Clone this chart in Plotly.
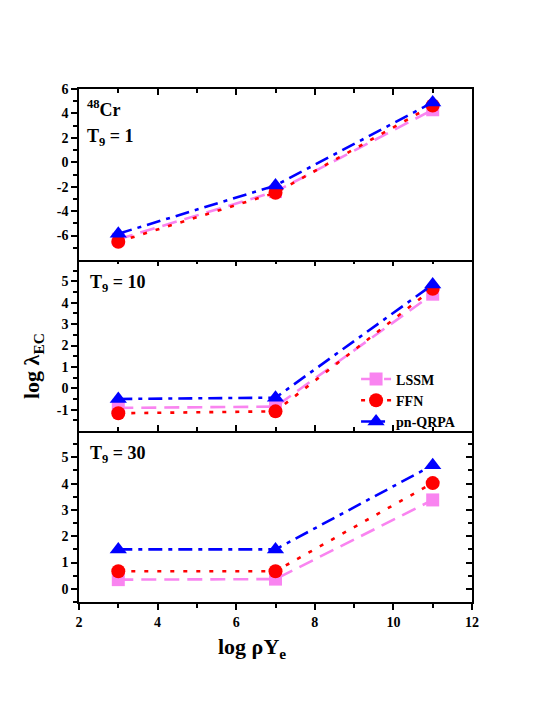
import plotly.graph_objects as go

# ---------------- data ----------------
log_rho_ye = [3, 7, 11]

lssm_t1 = [-6.3, -2.4, 4.3]
ffn_t1 = [-6.5, -2.5, 4.65]
qrpa_t1 = [-5.85, -1.9, 4.9]

lssm_t10 = [-0.92, -0.86, 4.4]
ffn_t10 = [-1.17, -1.08, 4.65]
qrpa_t10 = [-0.5, -0.44, 4.85]

lssm_t30 = [0.35, 0.37, 3.38]
ffn_t30 = [0.67, 0.67, 4.02]
qrpa_t30 = [1.5, 1.5, 4.7]

series_names = ["LSSM", "FFN", "pn-QRPA"]
panel_labels = ["T<sub>9</sub> = 1", "T<sub>9</sub> = 10", "T<sub>9</sub> = 30"]
nucleus_label = "<sup>48</sup>Cr"

x_ticks = [2, 4, 6, 8, 10, 12]
x_minor = [3, 5, 7, 9, 11]
top_ticks = [-6, -4, -2, 0, 2, 4, 6]
top_minor = [-7, -5, -3, -1, 1, 3, 5]
mid_ticks = [-1, 0, 1, 2, 3, 4, 5]
mid_minor = [-1.5, -0.5, 0.5, 1.5, 2.5, 3.5, 4.5, 5.5]
bot_ticks = [0, 1, 2, 3, 4, 5]
bot_minor = [-0.5, 0.5, 1.5, 2.5, 3.5, 4.5, 5.5]


def bold_labels(vals):
    return ["<b>%s</b>" % ("%g" % v) for v in vals]


# ---------------- styles ----------------
FONT = "Liberation Serif"
VIOLET = "#F984F0"
RED = "#FF0000"
BLUE = "#0000FF"
styles = {
    "LSSM": dict(color=VIOLET, dash="15px,8px", symbol="square", size=13),
    "FFN": dict(color=RED, dash="4px,9px", symbol="circle", size=14),
    "pn-QRPA": dict(color=BLUE, dash="14px,6px,4px,6px", symbol="triangle-up", size=15),
}

fig = go.Figure()

panels = [
    ("x3", "y3", [lssm_t1, ffn_t1, qrpa_t1]),
    ("x2", "y2", [lssm_t10, ffn_t10, qrpa_t10]),
    ("x", "y", [lssm_t30, ffn_t30, qrpa_t30]),
]
for pi, (xa, ya, data) in enumerate(panels):
    for name, vals in zip(series_names, data):
        s = styles[name]
        fig.add_trace(go.Scatter(
            x=log_rho_ye, y=vals, xaxis=xa, yaxis=ya, name="<b>" + name + "</b>",
            mode="lines+markers",
            line=dict(color=s["color"], width=2.6, dash=s["dash"]),
            marker=dict(color=s["color"], symbol=s["symbol"], size=s["size"]),
            showlegend=(pi == 1),
        ))

# empty traces so the right-hand overlay axes exist
for ya in ["y4", "y5", "y6"]:
    fig.add_trace(go.Scatter(x=[], y=[], xaxis="x", yaxis=ya, showlegend=False, hoverinfo="skip"))

tickfont = dict(family=FONT, size=14, color="black", weight="bold")
axis_common = dict(showline=True, linecolor="black", linewidth=1.5, showgrid=False,
                   zeroline=False, tickcolor="black", tickwidth=1.5)

d1 = 1 / 3
d2 = 2 / 3


def minor(vals, kind):
    return dict(tickvals=vals, ticks=kind, ticklen=4, tickcolor="black", tickwidth=1.5)


fig.update_layout(
    width=544, height=704,
    margin=dict(l=71, r=79.5, t=81, b=110.3),
    plot_bgcolor="white", paper_bgcolor="white",
    xaxis=dict(**axis_common, anchor="y", range=[2, 12], tickvals=x_ticks,
               ticktext=bold_labels(x_ticks),
               ticks="outside", ticklen=6, mirror=True, tickfont=tickfont,
               minor=minor(x_minor, "outside")),
    xaxis2=dict(**axis_common, anchor="y2", matches="x", range=[2, 12], tickvals=x_ticks,
                ticks="inside", ticklen=6, mirror="ticks", showticklabels=False,
                minor=minor(x_minor, "inside")),
    xaxis3=dict(**axis_common, anchor="y3", matches="x", range=[2, 12], tickvals=x_ticks,
                side="top", ticks="inside", ticklen=6, mirror=True, showticklabels=False,
                minor=minor(x_minor, "inside")),
    yaxis=dict(**axis_common, domain=[0, d1], range=[-0.5, 6], tickvals=bot_ticks,
               ticktext=bold_labels(bot_ticks),
               ticks="outside", ticklen=6, tickfont=tickfont, anchor="x",
               minor=minor(bot_minor, "outside")),
    yaxis2=dict(**axis_common, domain=[d1, d2], range=[-2, 6], tickvals=mid_ticks,
                ticktext=bold_labels(mid_ticks),
                ticks="outside", ticklen=6, tickfont=tickfont, anchor="x2",
                minor=minor(mid_minor, "outside")),
    yaxis3=dict(**axis_common, domain=[d2, 1], range=[-8, 6], tickvals=top_ticks,
                ticktext=bold_labels(top_ticks),
                ticks="outside", ticklen=6, tickfont=tickfont, anchor="x3",
                minor=minor(top_minor, "outside")),
    yaxis4=dict(**axis_common, overlaying="y", side="right", anchor="x", range=[-0.5, 6],
                tickvals=bot_ticks, ticks="inside", ticklen=6, showticklabels=False,
                minor=minor(bot_minor, "inside")),
    yaxis5=dict(**axis_common, overlaying="y2", side="right", anchor="x2", range=[-2, 6],
                tickvals=mid_ticks, ticks="inside", ticklen=6, showticklabels=False,
                minor=minor(mid_minor, "inside")),
    yaxis6=dict(**axis_common, overlaying="y3", side="right", anchor="x3", range=[-8, 6],
                tickvals=top_ticks, ticks="inside", ticklen=6, showticklabels=False,
                minor=minor(top_minor, "inside")),
    legend=dict(x=0.705, y=0.465, xanchor="left", yanchor="top", bgcolor="rgba(0,0,0,0)",
                font=dict(family=FONT, size=14, color="black"),
                tracegroupgap=0, itemwidth=30),
    showlegend=True,
)

label_font = dict(family=FONT, size=18, color="black")
annotations = [
    dict(text="<b>" + nucleus_label + "</b>", x=0.016, y=0.962, xanchor="left", yanchor="middle"),
    dict(text="<b>" + panel_labels[0] + "</b>", x=0.016, y=0.905, xanchor="left", yanchor="middle"),
    dict(text="<b>" + panel_labels[1] + "</b>", x=0.022, y=0.62, xanchor="left", yanchor="middle"),
    dict(text="<b>" + panel_labels[2] + "</b>", x=0.022, y=0.288, xanchor="left", yanchor="middle"),
]
for a in annotations:
    fig.add_annotation(xref="paper", yref="paper", showarrow=False, font=label_font, **a)

fig.add_annotation(text="<b>log ρY<sub>e</sub></b>", xref="paper", yref="paper", x=0.44, y=-0.09,
                   xanchor="center", yanchor="middle", showarrow=False,
                   font=dict(family=FONT, size=22, color="black"))
fig.add_annotation(text="<b>log λ<sub>EC</sub></b>", xref="paper", yref="paper", x=-0.117, y=0.46,
                   xanchor="center", yanchor="middle", textangle=-90, showarrow=False,
                   font=dict(family=FONT, size=22, color="black"))

fig.write_html("out.html")
